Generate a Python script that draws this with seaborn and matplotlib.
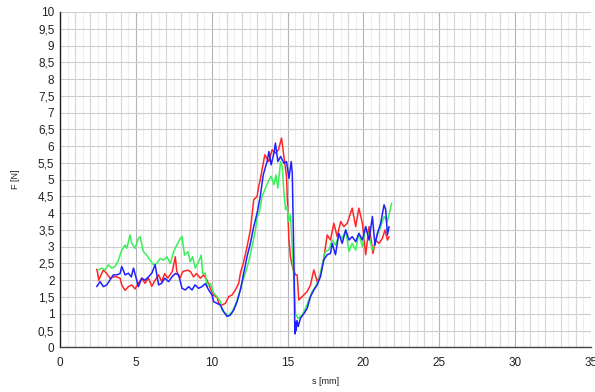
import matplotlib
matplotlib.use("Agg")
import matplotlib.pyplot as plt
import seaborn as sns
import pandas as pd
from matplotlib.ticker import MultipleLocator, FuncFormatter

# ---- data ----
red_s = [2.42, 2.49, 2.55, 2.86, 3.08, 3.3, 3.52, 3.74, 3.96, 4.07, 4.29, 4.51, 4.73, 4.95, 5.17, 5.39,
         5.6, 5.83, 6.05, 6.27, 6.5, 6.7, 6.9, 7.1, 7.4, 7.6, 7.7, 7.9, 8.1, 8.4, 8.6, 8.8, 9.0,
         9.25, 9.47, 9.69, 9.91, 10.13, 10.35, 10.46, 10.68, 10.9, 11.12, 11.34, 11.56, 11.78, 11.89,
         12.11, 12.33, 12.55, 12.77, 12.99, 13.1, 13.2, 13.4, 13.5, 13.77, 13.98, 14.2, 14.4, 14.6,
         14.76, 14.93, 15.02, 15.09, 15.2, 15.37, 15.53, 15.63, 15.74, 15.96, 16.29, 16.51, 16.73,
         16.95, 17.17, 17.39, 17.61, 17.83, 18.05, 18.27, 18.5, 18.71, 18.93, 19.26, 19.49, 19.7,
         19.93, 20.15, 20.37, 20.54, 20.63, 20.8, 21.03, 21.25, 21.42, 21.58, 21.69]
red_F = [2.33, 2.2, 2.0, 2.31, 2.2, 2.06, 2.1, 2.1, 2.06, 1.86, 1.7, 1.81, 1.86, 1.74, 1.91, 2.06,
         1.91, 2.06, 1.82, 2.0, 2.16, 1.96, 2.2, 2.06, 2.26, 2.7, 2.26, 2.06, 2.26, 2.3, 2.26, 2.1, 2.2,
         2.06, 2.16, 2.0, 1.76, 1.55, 1.5, 1.31, 1.26, 1.31, 1.51, 1.56, 1.71, 1.91, 2.21,
         2.56, 3.0, 3.5, 4.4, 4.5, 4.8, 5.0, 5.5, 5.74, 5.54, 5.89, 5.79, 5.89, 6.24,
         5.69, 5.09, 4.0, 3.2, 2.66, 2.31, 2.16, 2.16, 1.41, 1.51, 1.66, 1.86, 2.31,
         1.96, 2.16, 2.66, 3.35, 3.2, 3.7, 3.3, 3.75, 3.6, 3.7, 4.15, 3.6, 4.15,
         3.7, 2.76, 3.6, 3.1, 2.8, 3.2, 3.1, 3.25, 3.5, 3.2, 3.3]

blue_s = [2.42, 2.64, 2.86, 3.08, 3.3, 3.52, 3.74, 3.96, 4.07, 4.29, 4.51, 4.7, 4.84, 5.06, 5.17,
          5.39, 5.6, 5.83, 6.05, 6.27, 6.5, 6.7, 6.9, 7.16, 7.38, 7.6, 7.82, 8.04, 8.26, 8.48, 8.7,
          8.9, 9.14, 9.36, 9.58, 9.8, 10.02, 10.13, 10.35, 10.57, 10.79, 11.01, 11.23, 11.45, 11.67,
          11.89, 12.11, 12.33, 12.55, 12.77, 12.99, 13.2, 13.4, 13.65, 13.77, 13.92, 14.1, 14.2,
          14.36, 14.54, 14.76, 14.93, 15.09, 15.24, 15.31, 15.42, 15.48, 15.52, 15.56, 15.62, 15.7,
          15.85, 16.07, 16.29, 16.51, 16.73, 16.95, 17.17, 17.39, 17.61, 17.83, 17.94, 18.16, 18.38,
          18.6, 18.83, 19.05, 19.26, 19.49, 19.7, 19.93, 20.15, 20.37, 20.59, 20.76, 20.92, 21.14,
          21.36, 21.47, 21.58, 21.69]
blue_F = [1.81, 1.96, 1.81, 1.86, 2.01, 2.16, 2.16, 2.2, 2.41, 2.16, 2.21, 2.1, 2.36, 2.0, 1.81,
          2.06, 2.0, 2.1, 2.21, 2.46, 1.86, 1.91, 2.06, 1.96, 2.1, 2.2, 2.16, 1.76, 1.71, 1.81, 1.71,
          1.86, 1.76, 1.81, 1.9, 1.71, 1.56, 1.36, 1.31, 1.26, 1.06, 0.92, 0.96, 1.11, 1.36,
          1.71, 2.21, 2.71, 3.1, 3.6, 4.0, 4.5, 5.15, 5.54, 5.84, 5.44, 5.79, 6.09,
          5.54, 5.69, 5.49, 5.54, 5.04, 5.54, 5.2, 2.5, 0.4, 0.75, 0.5, 0.8, 0.62,
          0.87, 1.0, 1.16, 1.51, 1.71, 1.86, 2.11, 2.61, 2.76, 2.8, 3.1, 2.76, 3.4,
          3.1, 3.5, 3.2, 3.3, 3.15, 3.4, 3.2, 3.6, 3.2, 3.9, 3.05, 3.4, 3.7,
          4.25, 4.1, 3.35, 3.6]

green_s = [2.53, 2.75, 2.97, 3.19, 3.41, 3.63, 3.85, 4.07, 4.29, 4.4, 4.62, 4.73, 4.95, 5.17, 5.28,
           5.5, 5.72, 5.94, 6.16, 6.38, 6.6, 6.82, 7.05, 7.27, 7.49, 7.7, 7.93, 8.04, 8.21, 8.43,
           8.59, 8.74, 8.92, 9.14, 9.31, 9.4, 9.58, 9.69, 9.91, 10.13, 10.35, 10.57, 10.68, 10.9,
           11.12, 11.34, 11.56, 11.78, 12.0, 12.22, 12.44, 12.66, 12.88, 12.99, 13.17, 13.32, 13.55,
           13.77, 13.92, 14.1, 14.23, 14.36, 14.54, 14.65, 14.76, 14.87, 14.97, 15.08, 15.19, 15.34,
           15.52, 15.7, 15.96, 16.18, 16.4, 16.62, 16.84, 17.06, 17.28, 17.5, 17.72, 17.94, 18.16,
           18.38, 18.6, 18.83, 19.05, 19.26, 19.49, 19.7, 19.93, 20.15, 20.37, 20.59, 20.92, 21.14,
           21.36, 21.58, 21.86]
green_F = [2.31, 2.36, 2.31, 2.46, 2.36, 2.41, 2.6, 2.9, 3.05, 2.95, 3.35, 3.1, 2.95, 3.25, 3.3,
           2.85, 2.75, 2.6, 2.46, 2.5, 2.65, 2.6, 2.7, 2.5, 2.85, 3.05, 3.25, 3.3, 2.75, 2.85,
           2.55, 2.7, 2.36, 2.55, 2.75, 2.2, 2.21, 1.81, 1.91, 1.61, 1.51, 1.36, 1.11, 1.01,
           0.96, 1.06, 1.26, 1.56, 1.91, 2.21, 2.56, 3.0, 3.5, 3.85, 4.1, 4.5, 4.75,
           5.0, 5.1, 4.85, 5.14, 4.75, 5.54, 5.39, 4.6, 4.1, 4.2, 3.75, 3.95, 2.7,
           1.0, 0.86, 0.96, 1.16, 1.41, 1.66, 1.81, 2.01, 2.46, 2.86, 2.9, 3.2, 3.05,
           3.35, 3.25, 3.5, 2.86, 3.1, 2.9, 3.4, 3.0, 3.6, 3.3, 2.9, 3.35, 3.6,
           3.9, 3.75, 4.3]

x_ticks = [0, 5, 10, 15, 20, 25, 30, 35]
x_label = "s [mm]"
y_label = "F [N]"

frames = []
for name, s, f in [("red", red_s, red_F), ("green", green_s, green_F), ("blue", blue_s, blue_F)]:
    frames.append(pd.DataFrame({"s": s, "F": f, "series": name}))
df = pd.concat(frames, ignore_index=True)

sns.set_style("white")
plt.rcParams["font.family"] = ["Liberation Sans", "DejaVu Sans"]

fig = plt.figure(figsize=(5.95, 3.92), dpi=100)
ax = fig.add_axes([60 / 595, 1 - 347.3 / 392, 531 / 595, 335.3 / 392])

palette = {"red": "#ff2626", "green": "#3af05a", "blue": "#2020ff"}
sns.lineplot(data=df, x="s", y="F", hue="series", palette=palette, units="series",
             estimator=None, sort=False, linewidth=1.1, legend=False, ax=ax)

ax.set_xlim(0, 35)
ax.set_ylim(0, 10)

# grid
ax.xaxis.set_major_locator(MultipleLocator(5))
ax.xaxis.set_minor_locator(MultipleLocator(0.5))
ax.yaxis.set_major_locator(MultipleLocator(0.5))
ax.grid(which="minor", axis="x", color="#eeeeee", linewidth=0.8)
for v in range(1, 36):
    if v % 5 == 0:
        continue
    ax.axvline(v, color="#d6d6d6", linewidth=0.8, zorder=0.6)
ax.grid(which="major", axis="x", color="#b4b4b4", linewidth=0.8)
ax.grid(which="major", axis="y", color="#cdcdcd", linewidth=0.8)
ax.set_axisbelow(True)

ax.set_xticks(x_ticks)
ax.xaxis.set_major_formatter(FuncFormatter(lambda v, p: f"{v:g}"))
ax.yaxis.set_major_formatter(FuncFormatter(lambda v, p: f"{v:g}".replace(".", ",")))
ax.tick_params(axis="both", which="major", labelsize=8.5, length=4, color="#999999",
               labelcolor="#222222", pad=3)
ax.tick_params(axis="x", which="minor", length=4, color="#dddddd")
ax.tick_params(axis="y", which="major", length=0, pad=4)

for side in ["top", "right"]:
    ax.spines[side].set_visible(False)
ax.spines["left"].set_color("#222222")
ax.spines["bottom"].set_color("#444444")
ax.spines["left"].set_linewidth(1.0)
ax.spines["bottom"].set_linewidth(1.0)

ax.set_xlabel(x_label, fontsize=6.5, labelpad=6, color="#222222")
ax.set_ylabel(y_label, fontsize=6.5, labelpad=13, color="#222222")

fig.savefig("out.png", dpi=100)
